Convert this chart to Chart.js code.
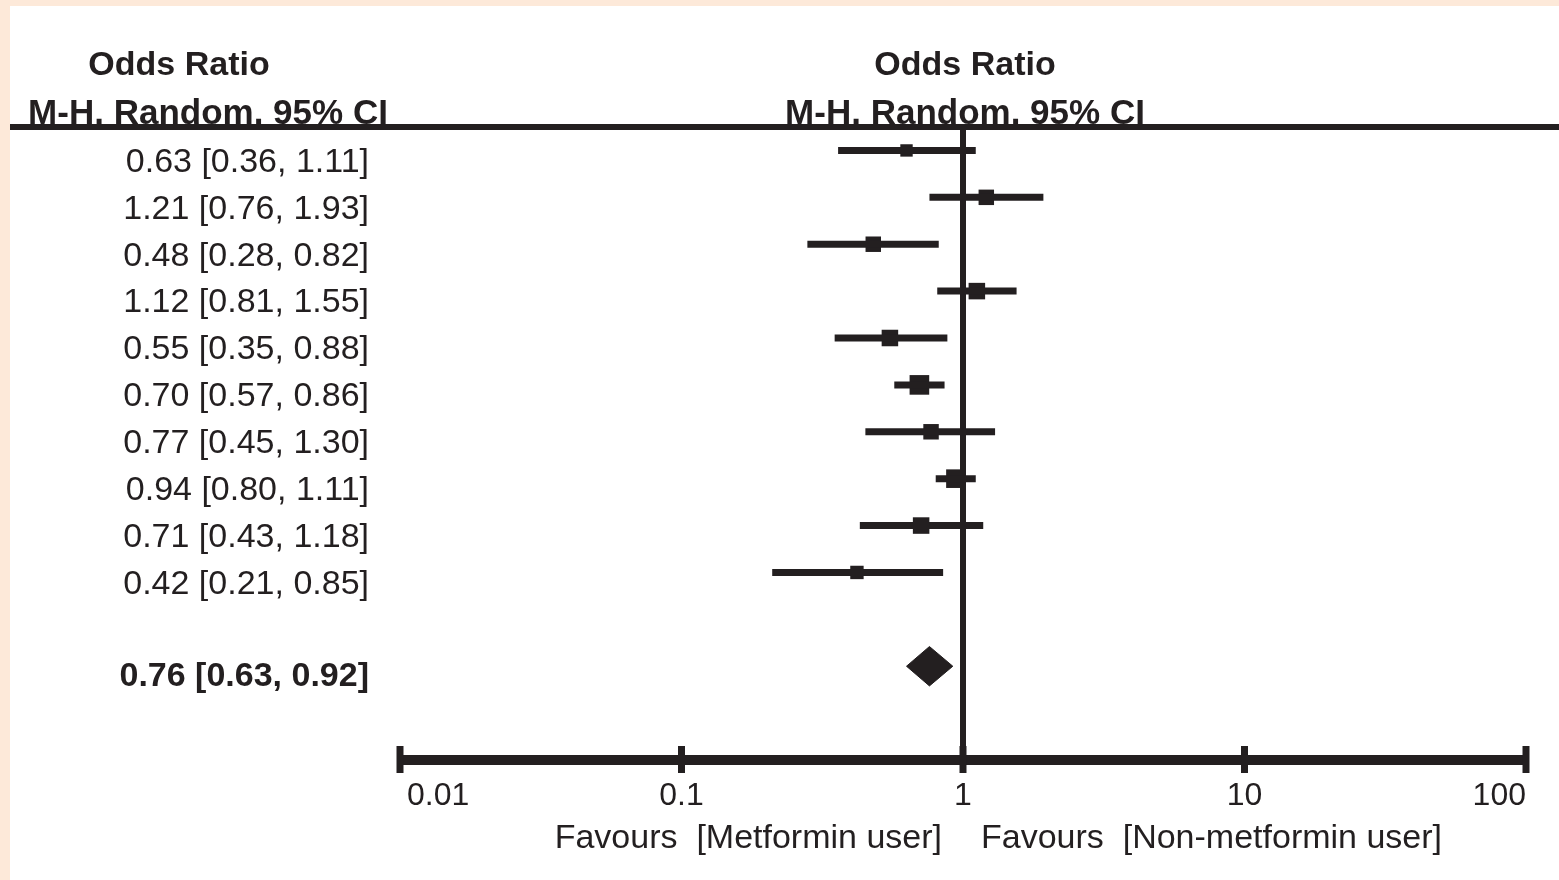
<!DOCTYPE html>
<html lang="en">
<head>
<meta charset="utf-8">
<title>Odds Ratio forest plot</title>
<script src="https://cdn.jsdelivr.net/npm/chart.js@4.4.1/dist/chart.umd.min.js"></script>
<style>
    html, body { margin: 0; padding: 0; background: #fde9d9; overflow: hidden; }
    #forest-chart { display: block; }
</style>
</head>
<body>
<canvas id="forest-chart" width="1559" height="880"></canvas>
<script>
// Study odds ratios with 95% CI (M-H, random)
const studyOddsRatios = [0.63, 1.21, 0.48, 1.12, 0.55, 0.70, 0.77, 0.94, 0.71, 0.42];
const studyLower = [0.36, 0.76, 0.28, 0.81, 0.35, 0.57, 0.45, 0.80, 0.43, 0.21];
const studyUpper = [1.11, 1.93, 0.82, 1.55, 0.88, 0.86, 1.30, 1.11, 1.18, 0.85];

// Study weights (%), estimated from the square sizes
const studyWeights = [5.9, 9.2, 9.2, 10.5, 10.5, 14.8, 9.2, 13.3, 10.5, 6.9];

// Pooled estimate
const pooledOddsRatio = 0.76;
const pooledLower = 0.63;
const pooledUpper = 0.92;

// Axis ticks and texts
const axisTicks = [0.01, 0.1, 1, 10, 100];
const axisTickLabels = ['0.01', '0.1', '1', '10', '100'];
const headerTitle = 'Odds Ratio';
const headerSubtitle = 'M-H. Random. 95% CI';
const favoursLeft = 'Favours  [Metformin user]';
const favoursRight = 'Favours  [Non-metformin user]';

const INK = '#231f20';
const FONT = '"Liberation Sans", Arial, Helvetica, sans-serif';
const POOLED_ROW = 12;

document.addEventListener('DOMContentLoaded', function() {
    initForestPlot();
});

/**
 * Format an estimate with its interval
 */
function formatEstimate(est, lo, hi) {
    return est.toFixed(2) + ' [' + lo.toFixed(2) + ', ' + hi.toFixed(2) + ']';
}

/**
 * Build the datasets: CI lines, weight squares, pooled diamond, no-effect line
 */
function buildDatasets() {
    const datasets = [];

    // Confidence interval lines
    studyOddsRatios.forEach((est, i) => {
        datasets.push({
            showLine: true,
            data: [{ x: studyLower[i], y: i + 1 }, { x: studyUpper[i], y: i + 1 }],
            borderColor: INK,
            borderWidth: 7,
            borderCapStyle: 'butt',
            pointRadius: 0
        });
    });

    // No effect line at OR = 1
    datasets.push({
        showLine: true,
        data: [{ x: 1, y: 0.5 }, { x: 1, y: 14 }],
        borderColor: INK,
        borderWidth: 6,
        borderCapStyle: 'butt',
        pointRadius: 0
    });

    // Weight squares (area proportional to weight)
    datasets.push({
        data: studyOddsRatios.map((est, i) => ({ x: est, y: i + 1 })),
        pointStyle: 'rect',
        pointRadius: studyWeights.map(w => Math.sqrt(w) * 5.1 / Math.SQRT2),
        backgroundColor: INK,
        borderWidth: 0
    });

    // Pooled diamond
    datasets.push({
        showLine: true,
        data: [
            { x: pooledLower, y: POOLED_ROW },
            { x: pooledOddsRatio, y: POOLED_ROW - 0.42 },
            { x: pooledUpper, y: POOLED_ROW },
            { x: pooledOddsRatio, y: POOLED_ROW + 0.42 },
            { x: pooledLower, y: POOLED_ROW }
        ],
        fill: 'shape',
        backgroundColor: INK,
        borderColor: INK,
        borderWidth: 1,
        pointRadius: 0,
        tension: 0
    });

    return datasets;
}

/**
 * Plugin drawing the frame, headers, row labels and the bottom axis
 */
const forestDecor = {
    id: 'forestDecor',
    beforeDraw(chart) {
        const ctx = chart.ctx;
        ctx.save();
        ctx.fillStyle = '#fde9d9';
        ctx.fillRect(0, 0, chart.width, chart.height);
        ctx.fillStyle = '#ffffff';
        ctx.fillRect(10, 6, chart.width - 10, chart.height - 6);
        ctx.restore();
    },
    afterDatasetsDraw(chart) {
        const ctx = chart.ctx;
        const xScale = chart.scales.x;
        const yScale = chart.scales.y;
        const area = chart.chartArea;
        const xOne = xScale.getPixelForValue(1);

        ctx.save();
        ctx.fillStyle = INK;
        ctx.strokeStyle = INK;

        // Column headers
        ctx.font = 'bold 34px ' + FONT;
        ctx.textAlign = 'center';
        ctx.textBaseline = 'middle';
        ctx.fillText(headerTitle, 179, 66);
        ctx.fillText(headerTitle, xOne + 2, 66);
        ctx.font = 'bold 35px ' + FONT;
        ctx.textBaseline = 'alphabetic';
        ctx.fillText(headerSubtitle, 208, 124);
        ctx.fillText(headerSubtitle, xOne + 2, 124);

        // Header rule
        ctx.lineWidth = 6;
        ctx.beginPath();
        ctx.moveTo(10, area.top);
        ctx.lineTo(chart.width, area.top);
        ctx.stroke();

        // Row labels
        ctx.textAlign = 'right';
        ctx.textBaseline = 'middle';
        ctx.font = '34px ' + FONT;
        studyOddsRatios.forEach((est, i) => {
            const y = yScale.getPixelForValue(i + 1) + 12;
            ctx.fillText(formatEstimate(est, studyLower[i], studyUpper[i]), 369, y);
        });
        ctx.font = 'bold 34px ' + FONT;
        ctx.fillText(formatEstimate(pooledOddsRatio, pooledLower, pooledUpper), 369,
            yScale.getPixelForValue(POOLED_ROW) + 10);

        // Bottom axis line and ticks
        const axisY = area.bottom;
        const xStart = xScale.getPixelForValue(axisTicks[0]);
        const xEnd = xScale.getPixelForValue(axisTicks[axisTicks.length - 1]);
        ctx.lineWidth = 10;
        ctx.beginPath();
        ctx.moveTo(xStart, axisY);
        ctx.lineTo(xEnd, axisY);
        ctx.stroke();
        ctx.lineWidth = 7;
        axisTicks.forEach(t => {
            const x = xScale.getPixelForValue(t);
            ctx.beginPath();
            ctx.moveTo(x, axisY - 14);
            ctx.lineTo(x, axisY + 13);
            ctx.stroke();
        });

        // Tick labels
        ctx.font = '32px ' + FONT;
        ctx.textBaseline = 'middle';
        axisTicks.forEach((t, i) => {
            let x = xScale.getPixelForValue(t);
            if (i === 0) {
                ctx.textAlign = 'left';
                x += 7;
            } else if (i === axisTicks.length - 1) {
                ctx.textAlign = 'right';
            } else {
                ctx.textAlign = 'center';
            }
            ctx.fillText(axisTickLabels[i], x, axisY + 36);
        });

        // Favours captions
        ctx.font = '34px ' + FONT;
        ctx.textAlign = 'right';
        ctx.fillText(favoursLeft, xOne - 21, axisY + 79);
        ctx.textAlign = 'left';
        ctx.fillText(favoursRight, xOne + 18, axisY + 79);

        ctx.restore();
    }
};

/**
 * Initialize forest plot
 */
function initForestPlot() {
    const ctx = document.getElementById('forest-chart');
    if (!ctx) return;

    new Chart(ctx, {
        type: 'scatter',
        data: { datasets: buildDatasets() },
        options: {
            responsive: false,
            animation: false,
            layout: {
                padding: { left: 400, right: 33, top: 127, bottom: 120 }
            },
            scales: {
                x: { type: 'logarithmic', min: 0.01, max: 100, display: false },
                y: { type: 'linear', min: 0.5, max: 14, reverse: true, display: false }
            },
            plugins: {
                legend: { display: false },
                tooltip: { enabled: false }
            }
        },
        plugins: [forestDecor]
    });
}
</script>
</body>
</html>
